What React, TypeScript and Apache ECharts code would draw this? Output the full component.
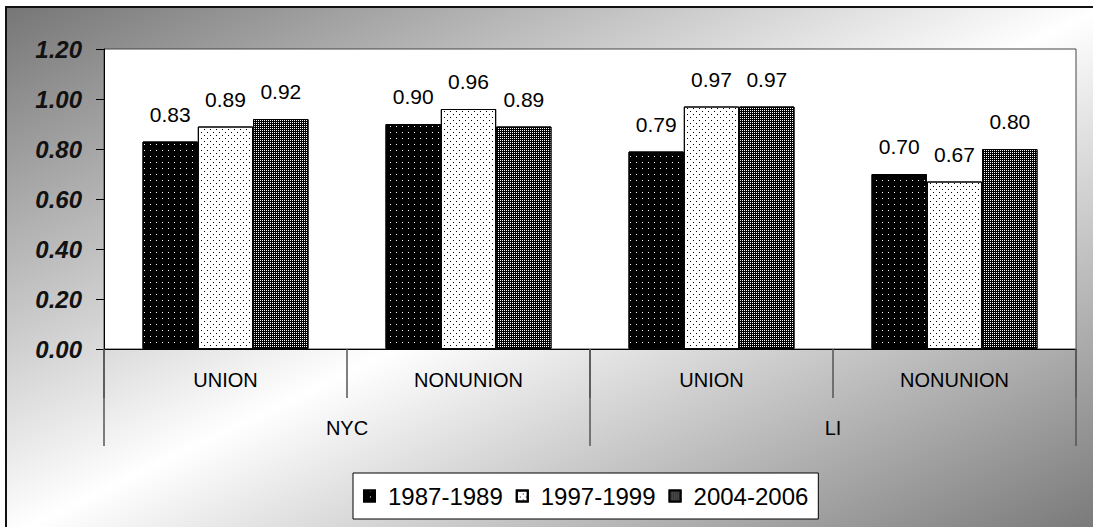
import React, { useEffect, useRef } from "react";
import * as echarts from "echarts";

const groups = ["UNION", "NONUNION", "UNION", "NONUNION"];
const regions = ["NYC", "LI"];
const seriesNames = ["1987-1989", "1997-1999", "2004-2006"];
const values1987 = [0.83, 0.9, 0.79, 0.7];
const values1997 = [0.89, 0.96, 0.97, 0.67];
const values2004 = [0.92, 0.89, 0.97, 0.8];
const yTicks = { min: 0, max: 1.2, interval: 0.2 };

const FONT = "'Liberation Sans', Arial, sans-serif";

export default function App() {
  const ref = useRef<HTMLDivElement>(null);
  useEffect(() => {
    if (!ref.current) return;
    const chart = echarts.init(ref.current, null, { renderer: "svg" });
    const fills = [
      {
        color: "#000",
        decal: { symbol: "rect", symbolSize: 1, color: "#fff", dashArrayX: [1, 5], dashArrayY: [1, 5], rotation: 0 },
      },
      {
        color: "#fff",
        decal: {
          symbol: "rect",
          symbolSize: 1,
          color: "#000",
          dashArrayX: [[1, 5], [0, 3, 1, 2]],
          dashArrayY: [1, 2],
          rotation: 0,
        },
      },
      {
        color: "#000",
        decal: { symbol: "rect", symbolSize: 1, color: "#fff", dashArrayX: [1, 1], dashArrayY: [1, 1], rotation: 0 },
      },
    ];
    const data = [values1987, values1997, values2004];
    chart.setOption({
      animation: false,
      aria: { enabled: true, decal: { show: true } },
      textStyle: { fontFamily: FONT },
      graphic: [
        {
          type: "rect",
          z: -10,
          silent: true,
          shape: { x: 6, y: 7, width: 1100, height: 530 },
          style: {
            fill: new echarts.graphic.LinearGradient(0, 0, 1, 1, [
              { offset: 0, color: "#767676" },
              { offset: 0.5, color: "#ffffff" },
              { offset: 1, color: "#767676" },
            ]),
            stroke: "#111",
            lineWidth: 2,
          },
        },
      ],
      grid: {
        left: 104,
        right: 17,
        top: 49,
        bottom: 178,
        show: true,
        backgroundColor: "#fff",
        borderColor: "#444",
        borderWidth: 1,
      },
      legend: {
        left: 353,
        top: 473,
        data: seriesNames,
        backgroundColor: "#fff",
        borderColor: "#000",
        borderWidth: 1,
        borderRadius: 0,
        padding: [11, 10, 11, 10],
        itemWidth: 11,
        itemHeight: 11,
        itemGap: 13,
        icon: "rect",
        textStyle: { fontSize: 24, color: "#000", fontFamily: FONT, padding: [0, 0, 0, 8] },
      },
      xAxis: [
        {
          type: "category",
          data: groups,
          axisLine: { lineStyle: { color: "#000", width: 1 } },
          axisTick: { show: true, length: 49, interval: 0, lineStyle: { color: "#555", width: 1.5 } },
          axisLabel: { fontSize: 20, color: "#000", margin: 21, fontFamily: FONT },
        },
        {
          type: "category",
          data: regions,
          position: "bottom",
          offset: 0,
          axisLine: { show: false },
          axisTick: { show: true, length: 97, interval: 0, lineStyle: { color: "#555", width: 1.5 } },
          axisLabel: { fontSize: 20, color: "#000", margin: 69, fontFamily: FONT },
        },
      ],
      yAxis: {
        type: "value",
        min: yTicks.min,
        max: yTicks.max,
        interval: yTicks.interval,
        axisLine: { show: true, lineStyle: { color: "#000", width: 1 } },
        axisTick: { show: true, length: 8, lineStyle: { color: "#000" } },
        splitLine: { show: false },
        axisLabel: {
          fontSize: 24,
          fontWeight: "bold",
          fontStyle: "italic",
          color: "#111",
          margin: 22,
          fontFamily: FONT,
          formatter: (v: number) => v.toFixed(2),
        },
      },
      series: seriesNames.map((name, i) => ({
        name,
        type: "bar",
        xAxisIndex: 0,
        data: data[i],
        barGap: "0%",
        barCategoryGap: "31.7%",
        itemStyle: { color: fills[i].color, decal: fills[i].decal, borderColor: "#000", borderWidth: 1 },
        label: {
          show: true,
          position: "top",
          distance: 17,
          fontSize: 21,
          color: "#000",
          fontFamily: FONT,
          formatter: (p: any) => Number(p.value).toFixed(2),
        },
      })),
    });
    return () => chart.dispose();
  }, []);
  return <div ref={ref} style={{ position: "absolute", left: 0, top: 0, width: 1093, height: 527 }} />;
}
